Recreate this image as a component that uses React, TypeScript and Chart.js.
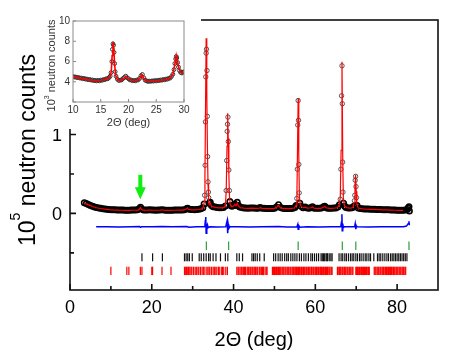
import React, { useEffect, useRef } from "react";
import { Chart, registerables } from "chart.js";
Chart.register(...registerables);

const FONT = "'Liberation Sans', Arial, Helvetica, sans-serif";

// ---------- main pattern (units of 10^5 counts) ----------
const twoTheta = [
  3.5, 4.0, 4.5, 5.0, 5.5, 6.0, 6.5, 7.0, 7.5, 8.0,
  8.5, 9.0, 9.5, 10.0, 10.5, 11.0, 11.5, 12.0, 12.5, 13.0,
  13.5, 14.0, 14.5, 15.0, 15.5, 16.0, 16.5, 17.0, 17.25, 17.5,
  18.0, 18.5, 19.0, 19.5, 20.0, 20.5, 21.0, 21.5, 22.0, 22.5,
  23.0, 23.5, 24.0, 24.5, 25.0, 25.5, 26.0, 26.5, 27.0, 27.5,
  28.0, 28.5, 28.75, 29.0, 29.5, 30.0, 30.5, 31.0, 31.5, 32.0,
  32.5, 32.8, 32.92, 33.05, 33.12, 33.2, 33.3, 33.38, 33.5, 33.58,
  33.65, 33.75, 33.85, 33.92, 34.0, 34.3, 34.6, 35.0, 35.5, 36.0,
  36.5, 37.0, 37.5, 38.0, 38.2, 38.32, 38.44, 38.52, 38.62, 38.72,
  38.85, 38.98, 39.1, 39.3, 39.6, 40.0, 40.3, 40.6, 40.9, 41.2,
  41.5, 42.0, 42.5, 43.0, 43.5, 44.0, 44.5, 45.0, 45.5, 46.0,
  46.5, 47.0, 47.5, 48.0, 48.5, 49.0, 49.5, 50.0, 50.5, 51.0,
  51.5, 52.0, 52.5, 53.0, 53.5, 54.0, 54.5, 55.0, 55.3, 55.47,
  55.6, 55.7, 55.8, 55.88, 55.96, 56.05, 56.2, 56.5, 57.0, 57.5,
  58.0, 58.5, 59.0, 59.3, 59.6, 60.0, 60.5, 61.0, 61.5, 62.0,
  62.3, 62.6, 63.0, 63.5, 64.0, 64.5, 65.0, 65.5, 65.9, 66.1,
  66.25, 66.42, 66.52, 66.6, 66.68, 66.76, 66.9, 67.2, 67.5, 68.0,
  68.5, 69.0, 69.4, 69.55, 69.65, 69.75, 69.85, 69.95, 70.05, 70.2,
  70.5, 71.0, 71.5, 72.0, 72.5, 73.0, 73.5, 74.0, 74.5, 75.0,
  75.5, 76.0, 76.5, 77.0, 77.5, 78.0, 78.5, 79.0, 79.5, 80.0,
  80.5, 81.0, 81.5, 82.0, 82.5, 82.7, 82.9, 83.0,
];
const observed = [
  0.135, 0.125, 0.112, 0.100, 0.091, 0.082, 0.075, 0.069, 0.064, 0.060,
  0.056, 0.053, 0.050, 0.047, 0.046, 0.045, 0.044, 0.043, 0.042, 0.042,
  0.041, 0.041, 0.041, 0.042, 0.042, 0.043, 0.045, 0.062, 0.078, 0.057,
  0.043, 0.042, 0.043, 0.045, 0.043, 0.042, 0.041, 0.042, 0.043, 0.047,
  0.043, 0.041, 0.041, 0.041, 0.041, 0.042, 0.042, 0.042, 0.043, 0.044,
  0.048, 0.060, 0.064, 0.056, 0.049, 0.050, 0.048, 0.049, 0.052, 0.058,
  0.072, 0.120, 0.23, 0.61, 1.16, 1.73, 2.03, 2.08, 1.81, 1.23,
  0.72, 0.40, 0.27, 0.20, 0.13, 0.14, 0.10, 0.085, 0.080, 0.075,
  0.072, 0.071, 0.076, 0.095, 0.29, 0.67, 1.04, 1.13, 1.22, 0.91,
  0.55, 0.29, 0.15, 0.10, 0.09, 0.10, 0.12, 0.10, 0.14, 0.10,
  0.080, 0.075, 0.070, 0.068, 0.067, 0.068, 0.070, 0.068, 0.066, 0.067,
  0.076, 0.067, 0.064, 0.063, 0.062, 0.062, 0.063, 0.066, 0.080, 0.110,
  0.075, 0.065, 0.062, 0.062, 0.063, 0.063, 0.065, 0.075, 0.10, 0.19,
  0.56, 1.12, 1.43, 1.18, 0.62, 0.26, 0.13, 0.09, 0.072, 0.080,
  0.068, 0.066, 0.075, 0.085, 0.070, 0.066, 0.064, 0.065, 0.070, 0.085,
  0.092, 0.075, 0.067, 0.066, 0.067, 0.068, 0.070, 0.080, 0.11, 0.18,
  0.56, 1.49, 1.87, 1.39, 0.65, 0.27, 0.13, 0.09, 0.075, 0.070,
  0.068, 0.072, 0.09, 0.16, 0.23, 0.42, 0.47, 0.34, 0.20, 0.10,
  0.070, 0.062, 0.058, 0.056, 0.055, 0.055, 0.054, 0.053, 0.052, 0.051,
  0.050, 0.049, 0.048, 0.047, 0.046, 0.045, 0.044, 0.043, 0.042, 0.041,
  0.040, 0.040, 0.040, 0.042, 0.050, 0.070, 0.085, 0.030,
];

const calcTheta = [
  3.5, 4.5, 5.5, 6.5, 7.5, 8.5, 9.5, 10.5, 11.5, 12.5,
  13.5, 14.5, 15.5, 16.5, 16.9, 17.2, 17.5, 17.9, 18.5, 19.5,
  20.5, 21.5, 22.2, 22.5, 22.8, 23.5, 24.5, 25.5, 26.5, 27.5,
  28.1, 28.5, 28.7, 29.0, 29.5, 30.5, 31.5, 32.2, 32.6, 32.85,
  33.0, 33.15, 33.3, 33.45, 33.6, 33.75, 33.9, 34.05, 34.3, 34.6,
  35.5, 36.5, 37.5, 38.0, 38.2, 38.4, 38.56, 38.7, 38.85, 39.0,
  39.2, 39.6, 40.0, 40.3, 40.6, 40.9, 41.2, 41.6, 42.5, 43.5,
  44.5, 45.5, 46.3, 46.6, 46.9, 48.0, 49.0, 50.0, 50.6, 51.0,
  51.4, 52.0, 53.0, 54.0, 54.8, 55.3, 55.5, 55.65, 55.8, 55.95,
  56.1, 56.3, 56.7, 57.2, 57.6, 58.0, 59.0, 59.3, 59.6, 60.5,
  61.5, 62.0, 62.3, 62.6, 63.5, 64.5, 65.3, 65.8, 66.1, 66.3,
  66.52, 66.7, 66.85, 67.1, 67.6, 68.5, 69.2, 69.5, 69.7, 69.85,
  70.0, 70.15, 70.5, 71.5, 72.5, 73.5, 74.5, 75.5, 76.5, 77.5,
  78.5, 79.5, 80.5, 81.5,
];
const calculated = [
  0.130, 0.108, 0.088, 0.072, 0.062, 0.054, 0.048, 0.044, 0.042, 0.040,
  0.039, 0.039, 0.040, 0.042, 0.048, 0.074, 0.052, 0.041, 0.040, 0.043,
  0.040, 0.040, 0.042, 0.046, 0.041, 0.039, 0.039, 0.040, 0.041, 0.042,
  0.047, 0.058, 0.064, 0.052, 0.047, 0.046, 0.050, 0.058, 0.075, 0.15,
  0.45, 1.35, 2.22, 1.55, 0.85, 0.38, 0.18, 0.11, 0.13, 0.09,
  0.077, 0.070, 0.073, 0.090, 0.28, 0.85, 1.27, 0.95, 0.50, 0.22,
  0.11, 0.085, 0.095, 0.115, 0.095, 0.13, 0.095, 0.075, 0.068, 0.065,
  0.068, 0.064, 0.068, 0.074, 0.065, 0.061, 0.060, 0.064, 0.080, 0.105,
  0.075, 0.063, 0.060, 0.061, 0.068, 0.10, 0.25, 0.85, 1.46, 0.75,
  0.22, 0.11, 0.080, 0.072, 0.078, 0.067, 0.072, 0.082, 0.068, 0.062,
  0.067, 0.082, 0.088, 0.072, 0.064, 0.066, 0.072, 0.095, 0.20, 0.80,
  1.92, 0.70, 0.20, 0.10, 0.073, 0.066, 0.075, 0.14, 0.35, 0.49,
  0.28, 0.12, 0.068, 0.057, 0.053, 0.052, 0.050, 0.048, 0.046, 0.044,
  0.042, 0.040, 0.038, 0.038,
];

const diffTheta = [
  6.4, 9, 12, 15, 17.0, 17.25, 17.5, 20, 22.5, 25,
  28.6, 29, 31, 32.8, 33.0, 33.1, 33.2, 33.3, 33.4, 33.5,
  33.65, 33.8, 34.2, 36, 38.1, 38.3, 38.45, 38.56, 38.7, 38.85,
  39.1, 41, 44, 47, 51, 53, 55.5, 55.7, 55.8, 55.95,
  56.2, 58, 61, 64, 66.2, 66.4, 66.5, 66.58, 66.7, 66.85,
  67.1, 69.6, 69.75, 69.9, 70.05, 70.3, 73, 76, 79, 81.5,
  82.3, 82.7, 82.9, 83.0,
];
const difference = [
  -0.170, -0.168, -0.171, -0.169, -0.167, -0.176, -0.168, -0.170, -0.166, -0.170,
  -0.166, -0.174, -0.170, -0.170, -0.15, -0.09, -0.045, -0.25, -0.13, -0.21,
  -0.15, -0.18, -0.17, -0.172, -0.170, -0.12, -0.09, -0.25, -0.14, -0.19,
  -0.17, -0.170, -0.172, -0.169, -0.165, -0.171, -0.170, -0.14, -0.20, -0.155,
  -0.175, -0.170, -0.171, -0.168, -0.170, -0.11, -0.01, -0.22, -0.13, -0.18,
  -0.17, -0.170, -0.13, -0.20, -0.16, -0.17, -0.171, -0.169, -0.170, -0.168,
  -0.16, -0.13, -0.10, -0.15,
];

// Bragg reflection positions (2Θ, deg)
const magneticReflections = [33.35, 38.8, 55.8, 66.6, 69.9, 82.9];
const phase2Reflections = [
  17.6, 20.2, 22.6, 28.0, 28.4, 28.8, 29.2, 29.9, 31.6, 32.1,
  32.7, 33.3, 33.9, 34.3, 35.0, 35.7, 36.8, 38.0, 38.6, 40.8,
  41.4, 42.2, 44.5, 44.9, 45.3, 45.8, 46.4, 47.5, 49.8, 50.3,
  50.9, 51.4, 51.9, 52.5, 53.0, 53.4, 54.0, 54.5, 55.0, 55.5,
  56.1, 56.6, 57.2, 57.7, 58.3, 58.9, 59.3, 59.8, 60.3, 60.8,
  61.4, 61.7, 62.0, 62.2, 62.6, 62.8, 63.0, 63.4, 63.8, 64.1,
  65.8, 66.3, 66.7, 67.2, 67.6, 68.1, 68.6, 69.0, 69.4, 69.9,
  70.3, 70.8, 71.2, 71.7, 72.2, 72.6, 73.1, 73.5, 74.3, 75.2,
  75.6, 76.0, 76.5, 77.0, 77.5, 77.9, 78.4, 78.8, 79.2, 79.6,
  80.0, 80.4, 80.8, 81.2, 81.6, 82.0, 82.4,
];
const phase1Reflections = [
  10.0, 13.9, 14.4, 17.2, 17.6, 20.0, 20.2, 22.5, 24.7,
  28.0, 28.3, 28.5, 28.8, 29.0, 29.3, 29.6, 29.8, 30.2, 30.6,
  30.9, 31.3, 31.5, 31.9, 32.3, 32.6, 32.8, 33.3, 33.7, 34.0,
  34.2, 34.6, 35.0, 35.3, 35.5, 35.9, 36.3, 36.5, 37.0, 37.3,
  37.6, 38.1, 38.5,
  40.8, 41.1, 41.3, 41.6, 41.9, 42.1, 42.4, 42.7, 42.9, 43.3,
  43.5, 43.7, 44.0, 44.2, 44.5, 44.7, 45.0, 45.2, 45.4, 45.7,
  45.9, 46.3, 46.5, 46.8, 47.1, 47.3, 47.7, 48.0, 48.2,
  49.5, 49.8, 50.0, 50.3, 50.5, 50.7, 51.0, 51.2, 51.4, 51.6,
  51.9, 52.1, 52.3, 52.6, 52.8, 53.1, 53.3, 53.5, 53.8, 54.0,
  54.3, 54.5, 54.7, 55.0, 55.1, 55.4, 55.6, 55.9, 56.1, 56.3,
  56.6, 56.8, 57.1, 57.3, 57.5, 57.8, 58.0, 58.3, 58.5, 58.7,
  59.0, 59.1, 59.4, 59.6, 59.9, 60.1, 60.3, 60.6, 60.8, 61.1,
  61.3, 61.5, 61.8, 62.0, 62.3, 62.5, 62.7, 63.0, 63.1, 63.4,
  63.6, 63.9, 64.1,
  65.4, 65.6, 65.9, 66.1, 66.3, 66.6, 66.8, 67.1, 67.3, 67.5,
  67.8, 68.0, 68.3, 68.5, 68.7, 69.0, 69.2,
  69.9, 70.1, 70.3, 70.6, 70.8, 71.1, 71.3, 71.5, 71.8, 72.0,
  72.3, 72.5, 72.7, 73.0, 73.2,
  74.4, 74.6, 74.8, 75.1, 75.3, 75.5, 75.8, 76.0, 76.3, 76.5,
  76.7, 77.0, 77.2, 77.4, 77.7, 77.9, 78.1, 78.4, 78.6, 78.8,
  79.1, 79.3, 79.5, 79.8, 80.0, 80.2, 80.5, 80.7, 80.9, 81.2,
  81.4, 81.6, 81.9, 82.1,
];

const mainXLabels = [0, 20, 40, 60, 80];
const mainXMinor = [10, 30, 50, 70];
const mainYLabels = [0, 1, 2];
const mainYMinor = [-0.5, 0.5, 1.5];

// arrow marking the weak reflection
const arrowTheta = 17.2;
const arrowTail = 0.49;
const arrowTip = 0.18;

// ---------- inset (units of 10^3 counts) ----------
const insetTheta = [
  10.0, 10.25, 10.5, 10.75, 11.0, 11.25, 11.5, 11.75, 12.0, 12.25,
  12.5, 12.75, 13.0, 13.25, 13.5, 13.75, 14.0, 14.25, 14.5, 14.75,
  15.0, 15.25, 15.5, 15.75, 16.0, 16.25, 16.5, 16.7, 16.85, 17.0,
  17.1, 17.2, 17.3, 17.4, 17.5, 17.6, 17.75, 18.0, 18.25, 18.5,
  18.75, 19.0, 19.25, 19.5, 19.75, 20.0, 20.25, 20.5, 20.75, 21.0,
  21.25, 21.5, 21.75, 22.0, 22.25, 22.5, 22.75, 23.0, 23.25, 23.5,
  23.75, 24.0, 24.25, 24.5, 24.75, 25.0, 25.25, 25.5, 25.75, 26.0,
  26.25, 26.5, 26.75, 27.0, 27.25, 27.5, 27.75, 28.0, 28.2, 28.35,
  28.5, 28.6, 28.7, 28.85, 29.0, 29.2, 29.4, 29.6, 29.8, 30.0,
];
const insetObserved = [
  4.52, 4.46, 4.47, 4.41, 4.42, 4.36, 4.37, 4.30, 4.33, 4.26,
  4.27, 4.20, 4.23, 4.16, 4.18, 4.11, 4.14, 4.08, 4.13, 4.09,
  4.17, 4.14, 4.22, 4.21, 4.30, 4.29, 4.42, 4.55, 4.90, 6.00,
  7.20, 7.75, 7.60, 6.90, 5.80, 5.00, 4.55, 4.25, 4.12, 4.15,
  4.18, 4.32, 4.43, 4.56, 4.40, 4.30, 4.18, 4.17, 4.10, 4.12,
  4.09, 4.17, 4.18, 4.33, 4.60, 4.72, 4.40, 4.15, 4.09, 4.03,
  4.07, 4.04, 4.09, 4.06, 4.12, 4.08, 4.14, 4.12, 4.18, 4.15,
  4.22, 4.19, 4.27, 4.25, 4.34, 4.36, 4.52, 4.75, 5.20, 5.80,
  6.25, 6.50, 6.35, 5.90, 5.45, 5.10, 4.92, 4.86, 4.94, 4.98,
];
const insetCalcTheta = [
  10.0, 11.0, 12.0, 13.0, 14.0, 15.0, 16.0, 16.6, 16.9, 17.05,
  17.2, 17.35, 17.5, 17.7, 18.0, 18.6, 19.2, 19.5, 19.8, 20.5,
  21.5, 22.0, 22.4, 22.8, 23.2, 24.0, 25.0, 26.0, 27.0, 27.6,
  28.0, 28.3, 28.6, 28.8, 29.0, 29.3, 29.6, 30.0,
];
const insetCalculated = [
  4.48, 4.38, 4.28, 4.18, 4.10, 4.13, 4.27, 4.42, 5.00, 6.60,
  7.95, 7.20, 5.70, 4.60, 4.20, 4.12, 4.35, 4.50, 4.35, 4.15,
  4.12, 4.30, 4.70, 4.30, 4.08, 4.05, 4.08, 4.15, 4.25, 4.40,
  4.70, 5.60, 6.60, 6.10, 5.50, 5.00, 4.88, 4.95,
];
const insetXLabels = [10, 15, 20, 25, 30];
const insetYLabels = [4, 6, 8, 10];
const insetYTicks = [2, 4, 6, 8, 10];

// ---------- helpers ----------
const pts = (xs: number[], ys: number[]) => xs.map((x, i) => ({ x, y: ys[i] }));
const row = (xs: number[], level: number) => xs.map((x) => ({ x, y: level }));

type FrameSpec = {
  xMajor: number[]; xMinor: number[]; yMajor: number[]; yMinor: number[];
  major: number; minor: number; color: string; width: number;
};

function drawFrame(chart: any, s: FrameSpec) {
  const { ctx, chartArea: a, scales } = chart;
  const xs = scales.x, ys = scales.y;
  ctx.save();
  ctx.strokeStyle = s.color;
  ctx.lineWidth = s.width;
  ctx.strokeRect(a.left, a.top, a.right - a.left, a.bottom - a.top);
  ctx.beginPath();
  const xt = (vals: number[], len: number) => vals.forEach((v) => {
    const p = xs.getPixelForValue(v);
    ctx.moveTo(p, a.bottom); ctx.lineTo(p, a.bottom - len);
  });
  const yt = (vals: number[], len: number) => vals.forEach((v) => {
    const p = ys.getPixelForValue(v);
    ctx.moveTo(a.left, p); ctx.lineTo(a.left + len, p);
  });
  xt(s.xMajor, s.major); xt(s.xMinor, s.minor);
  yt(s.yMajor, s.major); yt(s.yMinor, s.minor);
  ctx.stroke();
  ctx.restore();
}

type Part = { text: string; size: number; shift: number };
function drawRotated(ctx: CanvasRenderingContext2D, bx: number, cy: number, parts: Part[], color: string) {
  ctx.save();
  ctx.fillStyle = color;
  ctx.textBaseline = "alphabetic";
  ctx.textAlign = "left";
  let total = 0;
  const widths = parts.map((p) => {
    ctx.font = `${p.size}px ${FONT}`;
    const w = ctx.measureText(p.text).width;
    total += w;
    return w;
  });
  ctx.translate(bx, cy);
  ctx.rotate(-Math.PI / 2);
  let x = -total / 2;
  parts.forEach((p, i) => {
    ctx.font = `${p.size}px ${FONT}`;
    ctx.fillText(p.text, x, p.shift);
    x += widths[i];
  });
  ctx.restore();
}

function drawCentered(ctx: CanvasRenderingContext2D, text: string, cx: number, by: number, size: number, color: string) {
  ctx.save();
  ctx.fillStyle = color;
  ctx.font = `${size}px ${FONT}`;
  ctx.textAlign = "center";
  ctx.textBaseline = "alphabetic";
  ctx.fillText(text, cx, by);
  ctx.restore();
}

// baseline points form a dense dark band; peak points are thin open circles
const isBand = (c: any) => (c.raw ? c.raw.y < 0.16 : true);

export default function App() {
  const mainRef = useRef<HTMLCanvasElement>(null);
  const insetRef = useRef<HTMLCanvasElement>(null);

  useEffect(() => {
    document.body.style.margin = "0";
    Chart.defaults.font.family = FONT;

    const mainPlugin = {
      id: "mainDecor",
      afterDatasetsDraw(chart: any) {
        const { ctx, chartArea: a, scales } = chart;
        drawFrame(chart, {
          xMajor: mainXLabels, xMinor: mainXMinor, yMajor: mainYLabels, yMinor: mainYMinor,
          major: 6, minor: 4, color: "#111", width: 1.6,
        });
        // green arrow
        const ax = scales.x.getPixelForValue(arrowTheta);
        const yTail = scales.y.getPixelForValue(arrowTail);
        const yTip = scales.y.getPixelForValue(arrowTip);
        const headLen = 12, headHalf = 5.5, shaftHalf = 2;
        ctx.save();
        ctx.fillStyle = "#11ee11";
        ctx.beginPath();
        ctx.moveTo(ax - shaftHalf, yTail);
        ctx.lineTo(ax + shaftHalf, yTail);
        ctx.lineTo(ax + shaftHalf, yTip - headLen);
        ctx.lineTo(ax + headHalf, yTip - headLen);
        ctx.lineTo(ax, yTip);
        ctx.lineTo(ax - headHalf, yTip - headLen);
        ctx.lineTo(ax - shaftHalf, yTip - headLen);
        ctx.closePath();
        ctx.fill();
        ctx.restore();
        // axis titles
        drawCentered(ctx, "2\u0398 (deg)", (a.left + a.right) / 2, a.bottom + 56, 20, "#000");
        drawRotated(ctx, 35, (a.top + a.bottom) / 2 - 5, [
          { text: "10", size: 23, shift: 0 },
          { text: "5", size: 14, shift: -15 },
          { text: " neutron counts", size: 23, shift: 0 },
        ], "#000");
      },
    };

    const main = new Chart(mainRef.current!, {
      type: "scatter",
      data: {
        datasets: [
          {
            data: pts(calcTheta, calculated), showLine: true, borderColor: "#ff0000",
            borderWidth: 1.2, pointRadius: 0, tension: 0,
          },
          {
            data: pts(twoTheta, observed), showLine: false, pointStyle: "circle",
            pointRadius: (c: any) => (isBand(c) ? 2.7 : 2.2),
            pointBorderWidth: (c: any) => (isBand(c) ? 1.6 : 0.9),
            pointBorderColor: (c: any) => (isBand(c) ? "#000" : "#444"),
            pointBackgroundColor: "rgba(0,0,0,0)",
          },
          {
            data: pts(diffTheta, difference), showLine: true, borderColor: "#0000ff",
            borderWidth: 1.5, pointRadius: 0, tension: 0,
          },
          {
            data: row(magneticReflections, -0.41), showLine: false, pointStyle: "line",
            pointRotation: 90, pointRadius: 4.2, pointBorderWidth: 1.2, pointBorderColor: "#2e9e3a",
          },
          {
            data: row(phase2Reflections, -0.556), showLine: false, pointStyle: "line",
            pointRotation: 90, pointRadius: 4, pointBorderWidth: 1.2, pointBorderColor: "#111",
          },
          {
            data: row(phase1Reflections, -0.728), showLine: false, pointStyle: "line",
            pointRotation: 90, pointRadius: 4.2, pointBorderWidth: 1.2, pointBorderColor: "#ff0000",
          },
        ],
      },
      options: {
        responsive: false,
        animation: false,
        devicePixelRatio: 1,
        events: [],
        layout: { padding: { top: 20, right: 25, left: 0, bottom: 0 } },
        plugins: { legend: { display: false }, tooltip: { enabled: false }, title: { display: false } },
        scales: {
          x: {
            type: "linear", min: 0, max: 90,
            grid: { display: false, drawTicks: false }, border: { display: false },
            afterBuildTicks: (s: any) => { s.ticks = mainXLabels.map((v) => ({ value: v })); },
            afterFit: (s: any) => { s.height = 70; },
            ticks: { font: { size: 18 }, color: "#000", padding: 7, maxRotation: 0, autoSkip: false,
              callback: (v: any) => String(v) },
          },
          y: {
            type: "linear", min: -0.97, max: 2.45,
            grid: { display: false, drawTicks: false }, border: { display: false },
            afterBuildTicks: (s: any) => { s.ticks = mainYLabels.map((v) => ({ value: v })); },
            afterFit: (s: any) => { s.width = 70; },
            ticks: { font: { size: 18 }, color: "#000", padding: 8, autoSkip: false, labelOffset: 1.5,
              callback: (v: any) => String(v) },
          },
        },
      } as any,
      plugins: [mainPlugin],
    } as any);

    const insetPlugin = {
      id: "insetDecor",
      afterDatasetsDraw(chart: any) {
        const { ctx, chartArea: a } = chart;
        drawFrame(chart, {
          xMajor: insetXLabels, xMinor: [], yMajor: insetYTicks, yMinor: [],
          major: 3, minor: 2, color: "#8a8a8a", width: 1,
        });
        drawCentered(ctx, "2\u0398 (deg)", (a.left + a.right) / 2, a.bottom + 23.5, 11, "#333");
        drawRotated(ctx, 15, (a.top + a.bottom) / 2 + 4, [
          { text: "10", size: 11, shift: 0 },
          { text: "3", size: 7, shift: -6 },
          { text: " neutron counts", size: 11, shift: 0 },
        ], "#333");
      },
    };

    const inset = new Chart(insetRef.current!, {
      type: "scatter",
      data: {
        datasets: [
          {
            data: pts(insetCalcTheta, insetCalculated), showLine: true, borderColor: "#ff0000",
            borderWidth: 1.6, pointRadius: 0, tension: 0,
          },
          {
            data: pts(insetTheta, insetObserved), showLine: false, pointStyle: "circle",
            pointRadius: 1.9, pointBorderWidth: 1, pointBorderColor: "#333",
            pointBackgroundColor: "rgba(0,0,0,0)",
          },
        ],
      },
      options: {
        responsive: false,
        animation: false,
        devicePixelRatio: 1,
        events: [],
        layout: { padding: { top: 21, right: 17, left: 0, bottom: 0 } },
        plugins: { legend: { display: false }, tooltip: { enabled: false }, title: { display: false } },
        scales: {
          x: {
            type: "linear", min: 10, max: 30,
            grid: { display: false, drawTicks: false }, border: { display: false },
            afterBuildTicks: (s: any) => { s.ticks = insetXLabels.map((v) => ({ value: v })); },
            afterFit: (s: any) => { s.height = 28; },
            ticks: { font: { size: 10 }, color: "#333", padding: 2, maxRotation: 0, autoSkip: false,
              callback: (v: any) => String(v) },
          },
          y: {
            type: "linear", min: 2, max: 10,
            grid: { display: false, drawTicks: false }, border: { display: false },
            afterBuildTicks: (s: any) => { s.ticks = insetYLabels.map((v) => ({ value: v })); },
            afterFit: (s: any) => { s.width = 33; },
            ticks: { font: { size: 10 }, color: "#333", padding: 3, autoSkip: false,
              callback: (v: any) => String(v) },
          },
        },
      } as any,
      plugins: [insetPlugin],
    } as any);

    return () => {
      main.destroy();
      inset.destroy();
    };
  }, []);

  return (
    <div style={{ position: "relative", width: 463, height: 360, background: "#fff", overflow: "hidden" }}>
      <canvas ref={mainRef} width={463} height={360} style={{ position: "absolute", left: 0, top: 0 }} />
      <div style={{ position: "absolute", left: 40, top: 0, width: 161, height: 129, background: "#fff", overflow: "hidden" }}>
        <canvas ref={insetRef} width={161} height={130} style={{ display: "block" }} />
      </div>
    </div>
  );
}
